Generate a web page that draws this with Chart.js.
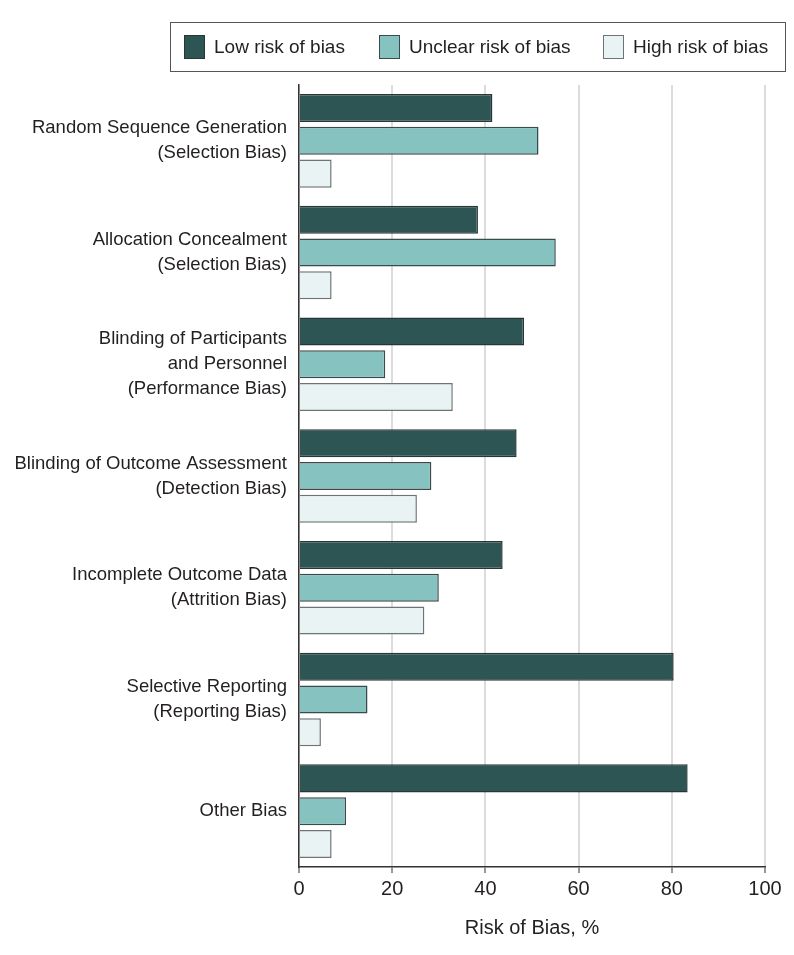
<!DOCTYPE html>
<html>
<head>
<meta charset="utf-8">
<script src="https://cdn.jsdelivr.net/npm/chart.js@4.4.1/dist/chart.umd.min.js"></script>
<style>
  body { margin: 0; background: #fff; }
  #wrap { position: relative; width: 794px; height: 955px; }
  #legend {
    position: absolute; left: 170px; top: 22px; width: 614px; height: 48px;
    border: 1.5px solid #555; box-sizing: content-box;
    display: flex; align-items: center;
    font-family: "Liberation Sans", Arial, sans-serif; font-size: 19px; color: #231f20;
  }
  .item { display: flex; align-items: center; position: absolute; }
  .sw { width: 21px; height: 24px; border: 1px solid #333; margin-right: 9px; box-sizing: border-box; }
</style>
</head>
<body>
<div id="wrap">
  <canvas id="chart" width="794" height="955"></canvas>
  <div id="legend"></div>
</div>
<script>
const categories = [
  ['Random Sequence Generation', '(Selection Bias)'],
  ['Allocation Concealment', '(Selection Bias)'],
  ['Blinding of Participants', 'and Personnel', '(Performance Bias)'],
  ['Blinding of Outcome Assessment', '(Detection Bias)'],
  ['Incomplete Outcome Data', '(Attrition Bias)'],
  ['Selective Reporting', '(Reporting Bias)'],
  ['Other Bias']
]
const lowRisk = [41.5, 38.4, 48.3, 46.7, 43.7, 80.4, 83.4]
const unclearRisk = [51.4, 55.1, 18.5, 28.4, 30.0, 14.7, 10.1]
const highRisk = [7.0, 7.0, 33.0, 25.3, 26.9, 4.7, 7.0]
const xTicks = [0, 20, 40, 60, 80, 100]

const seriesNames = ['Low risk of bias', 'Unclear risk of bias', 'High risk of bias']
const fills = ['#2c5554', '#86c2c0', '#eaf3f4']
const borders = ['#2a3535', '#3b4a4a', '#6e7373']

const font = "'Liberation Sans', Arial, sans-serif"
const ink = '#231f20'

// html legend, same order as the datasets
const legendEl = document.getElementById('legend')
const legendX = [13, 208, 432]
seriesNames.forEach((name, i) => {
  const item = document.createElement('div')
  item.className = 'item'
  item.style.left = legendX[i] + 'px'
  item.innerHTML = `<span class="sw" style="background:${fills[i]};border-color:${borders[i]}"></span><span>${name}</span>`
  legendEl.appendChild(item)
})

const barStyle = (i) => ({
  backgroundColor: fills[i],
  borderColor: borders[i],
  borderWidth: 1.5,
  borderSkipped: 'start',
  categoryPercentage: 0.88,
  barPercentage: 0.855
})

const config = {
  type: 'bar',
  data: {
    labels: categories,
    datasets: [
      { label: seriesNames[0], data: lowRisk, ...barStyle(0) },
      { label: seriesNames[1], data: unclearRisk, ...barStyle(1) },
      { label: seriesNames[2], data: highRisk, ...barStyle(2) }
    ]
  },
  options: {
    indexAxis: 'y',
    responsive: false,
    animation: false,
    layout: { padding: { top: 85, right: 29, bottom: 0, left: 0 } },
    plugins: {
      legend: { display: false },
      tooltip: { enabled: false }
    },
    scales: {
      x: {
        min: 0,
        max: 100,
        afterBuildTicks: (scale) => { scale.ticks = xTicks.map(v => ({ value: v })) },
        afterFit: (scale) => { scale.height = 88 },
        ticks: {
          color: ink,
          padding: 4,
          font: { family: font, size: 20 }
        },
        grid: {
          color: '#dcdcdc',
          lineWidth: 2,
          tickColor: '#333',
          tickLength: 6,
          tickWidth: 1
        },
        border: { color: '#333', width: 1.5 },
        title: {
          display: true,
          text: 'Risk of Bias, %',
          color: ink,
          font: { family: font, size: 20 },
          padding: { top: 0, bottom: 15 }
        }
      },
      y: {
        afterFit: (scale) => { scale.width = 299 },
        ticks: {
          color: ink,
          padding: 12,
          font: { family: font, size: 18.5, lineHeight: 25 / 18.5 }
        },
        grid: { display: false, tickLength: 0 },
        border: { color: '#333', width: 1.5 }
      }
    }
  }
}

new Chart(document.getElementById('chart'), config)
</script>
</body>
</html>
